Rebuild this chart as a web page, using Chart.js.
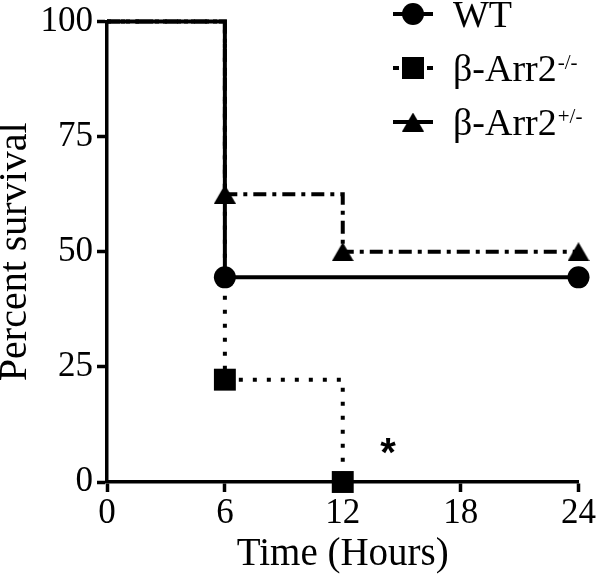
<!DOCTYPE html>
<html>
<head>
<meta charset="utf-8">
<script src="https://cdn.jsdelivr.net/npm/chart.js@4/dist/chart.umd.min.js"></script>
<style>
  html, body { margin: 0; padding: 0; background: #fff; }
  #wrap { width: 600px; height: 583px; position: relative; }
</style>
</head>
<body>
<div id="wrap"><canvas id="c" width="600" height="583"></canvas></div>
<script>
// ---- data ----
const seriesNames = ['WT', 'β-Arr2', 'β-Arr2'];
const seriesSup = ['', '-/-', '+/-'];
const wtTime = [0, 6, 24];
const wtSurvival = [100, 44.44, 44.44];
const koTime = [0, 6, 12];
const koSurvival = [100, 22.22, 0];
const hetTime = [0, 6, 12, 24];
const hetSurvival = [100, 62.5, 50, 50];
const xTicks = [0, 6, 12, 18, 24];
const yTicks = [0, 25, 50, 75, 100];
const xTitle = 'Time (Hours)';
const yTitle = 'Percent survival';
const sigMark = { x: 14.3, y: 8.4, text: '*' };

const FONT = '"Liberation Serif", "Times New Roman", serif';

function pts(t, v) { return t.map((x, i) => ({ x: x, y: v[i] })); }
function radii(n, r) { return Array.from({ length: n }, (_, i) => (i === 0 ? 0 : r)); }

// triangle marker (bounding-box centred)
function makeTriangle(w, h) {
  const c = document.createElement('canvas');
  c.width = w; c.height = h;
  const g = c.getContext('2d');
  g.fillStyle = '#000';
  g.beginPath();
  g.moveTo(w / 2, 0);
  g.lineTo(w, h);
  g.lineTo(0, h);
  g.closePath();
  g.fill();
  return c;
}
const tri = makeTriangle(22, 19);

const legendPlugin = {
  id: 'customLegend',
  afterDraw(chart) {
    const ctx = chart.ctx;
    const rows = [14, 68, 122];
    const lx0 = 393, lx1 = 433, mx = 413, tx = 453;
    ctx.save();
    ctx.fillStyle = '#000';
    ctx.strokeStyle = '#000';
    ctx.lineWidth = 4;
    rows.forEach((y, i) => {
      ctx.beginPath();
      if (i === 1) {
        ctx.moveTo(lx0, y); ctx.lineTo(lx0 + 6, y);
        ctx.moveTo(lx1 - 6, y); ctx.lineTo(lx1, y);
      } else {
        ctx.moveTo(lx0, y); ctx.lineTo(lx1, y);
      }
      ctx.stroke();
      if (i === 0) {
        ctx.beginPath(); ctx.arc(mx, y, 11, 0, Math.PI * 2); ctx.fill();
      } else if (i === 1) {
        ctx.fillRect(mx - 11, y - 11, 22, 22);
      } else {
        ctx.drawImage(tri, mx - 11, y - 9.5);
      }
      ctx.font = '38px ' + FONT;
      ctx.textAlign = 'left';
      ctx.textBaseline = 'alphabetic';
      const base = y + 13;
      ctx.fillText(seriesNames[i], tx, base);
      if (seriesSup[i]) {
        const w = ctx.measureText(seriesNames[i]).width;
        ctx.font = '21px ' + FONT;
        ctx.fillText(seriesSup[i], tx + w + 1, base - 12);
      }
    });
    // significance mark
    const xs = chart.scales.x, ys = chart.scales.y;
    ctx.font = 'bold 40px "Liberation Sans", Arial, sans-serif';
    ctx.textAlign = 'center';
    ctx.textBaseline = 'alphabetic';
    ctx.fillText(sigMark.text, xs.getPixelForValue(sigMark.x), ys.getPixelForValue(sigMark.y) + 0.57 * 40);
    ctx.restore();
  }
};

const common = {
  borderColor: '#000',
  backgroundColor: '#000',
  pointBackgroundColor: '#000',
  pointBorderColor: '#000',
  pointBorderWidth: 0,
  borderWidth: 4,
  stepped: true,
  fill: false,
  clip: false,
  borderCapStyle: 'butt'
};

new Chart(document.getElementById('c'), {
  type: 'line',
  data: {
    datasets: [
      Object.assign({}, common, {
        label: 'WT', data: pts(wtTime, wtSurvival),
        pointStyle: 'circle', pointRadius: radii(wtTime.length, 11)
      }),
      Object.assign({}, common, {
        label: 'β-Arr2-/-', data: pts(koTime, koSurvival),
        borderDash: [4, 10],
        pointStyle: 'rect', pointRadius: radii(koTime.length, 15.5)
      }),
      Object.assign({}, common, {
        label: 'β-Arr2+/-', data: pts(hetTime, hetSurvival),
        borderDash: [13, 6, 4, 6],
        pointStyle: tri, pointRadius: radii(hetTime.length, 11)
      })
    ]
  },
  options: {
    responsive: false,
    animation: false,
    layout: { padding: { left: 0, top: 18, right: 18, bottom: 0 } },
    plugins: { legend: { display: false }, tooltip: { enabled: false } },
    scales: {
      x: {
        type: 'linear', min: 0, max: 24,
        afterBuildTicks(s) { s.ticks = xTicks.map(v => ({ value: v })); },
        afterFit(s) { s.height = 101; },
        grid: { display: true, drawOnChartArea: false, drawTicks: true, tickLength: 10, tickWidth: 3.5, tickColor: '#000' },
        border: { display: true, color: '#000', width: 3.5 },
        ticks: { color: '#000', padding: 4, maxRotation: 0, autoSkip: false, font: { family: FONT, size: 35, lineHeight: 1 } },
        title: { display: true, text: xTitle, color: '#000', padding: { top: 0, bottom: 5 }, font: { family: FONT, size: 39, lineHeight: 1.2 } }
      },
      y: {
        type: 'linear', min: 0, max: 100,
        afterBuildTicks(s) { s.ticks = yTicks.map(v => ({ value: v })); },
        afterFit(s) { s.width = 107; },
        grid: { display: true, drawOnChartArea: false, drawTicks: true, tickLength: 10, tickWidth: 3.5, tickColor: '#000' },
        border: { display: true, color: '#000', width: 3.5 },
        ticks: { color: '#000', padding: 4, autoSkip: false, font: { family: FONT, size: 35, lineHeight: 1 } },
        title: { display: true, text: yTitle, color: '#000', padding: { top: 0, bottom: 0 }, font: { family: FONT, size: 40, lineHeight: 0.78 } }
      }
    }
  },
  plugins: [legendPlugin]
});
</script>
</body>
</html>
